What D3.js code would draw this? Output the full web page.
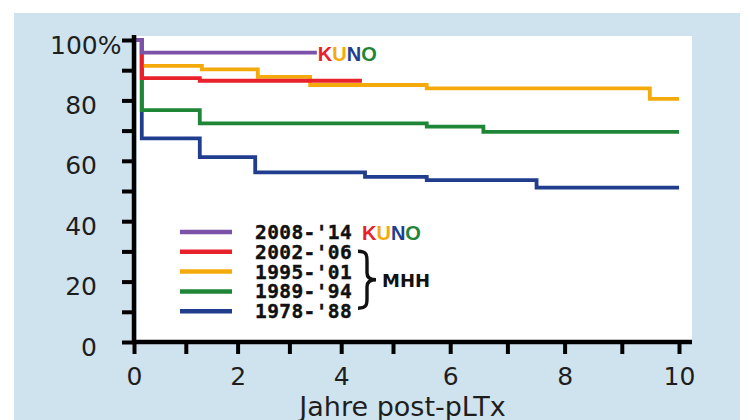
<!DOCTYPE html>
<html><head><meta charset="utf-8">
<script src="https://cdn.jsdelivr.net/npm/d3@7"></script>
<style>
html,body{margin:0;padding:0;background:#fff;}
svg{display:block;}
</style></head>
<body>
<script>
// ---- data ----
const seriesNames = ["2008-'14", "2002-'06", "1995-'01", "1989-'94", "1978-'88"];
const seriesColors = ["#7b52a8", "#e8212b", "#f5aa0c", "#1f8537", "#203d8e"];
const timePurple = [0, 0.15, 3.53];
const survPurple = [100, 95.8, 95.8];
const timeRed = [0, 0.15, 1.27, 4.4];
const survRed = [100, 87.4, 86.5, 86.5];
const timeOrange = [0, 0.15, 1.31, 2.39, 3.40, 5.59, 9.49, 10.0];
const survOrange = [100, 91.4, 90.3, 87.8, 85.1, 84.0, 80.5, 80.5];
const timeGreen = [0, 0.15, 1.27, 5.59, 6.58, 10.0];
const survGreen = [100, 76.8, 72.4, 71.3, 69.6, 69.6];
const timeBlue = [0, 0.15, 1.27, 2.34, 4.46, 5.59, 7.51, 10.0];
const survBlue = [100, 67.4, 61.2, 56.2, 54.7, 53.6, 51.1, 51.1];
const xTickLabels = [0, 2, 4, 6, 8, 10];
const xMinorTicks = [1, 3, 5, 7, 9];
const yTickLabels = [0, 20, 40, 60, 80, 100];
const yMinorTicks = [10, 30, 50, 70, 90];
const xTitle = "Jahre post-pLTx";
const kunoLetters = ["K", "U", "N", "O"];
const kunoColors = ["#e8212b", "#f5aa0c", "#203d8e", "#1f8537"];
const groupLabel = "MHH";

const W = 749, H = 420;
const svg = d3.select("body").append("svg").attr("width", W).attr("height", H);

// background panels
svg.append("rect").attr("x", 14).attr("y", 13).attr("width", 726).attr("height", H - 13).attr("fill", "#cfe3ef");

const x = d3.scaleLinear().domain([0, 5, 10]).range([134, 393, 679]);
const y = d3.scaleLinear().domain([0, 100]).range([342, 40]);

svg.append("rect").attr("x", 137).attr("y", 36).attr("width", 692 - 137).attr("height", 342 - 36).attr("fill", "#ffffff");

// curves
const series = [
  {t: timeBlue, v: survBlue, c: seriesColors[4]},
  {t: timeGreen, v: survGreen, c: seriesColors[3]},
  {t: timeOrange, v: survOrange, c: seriesColors[2]},
  {t: timeRed, v: survRed, c: seriesColors[1]},
  {t: timePurple, v: survPurple, c: seriesColors[0]}
];
const line = d3.line().x(d => x(d[0])).y(d => y(d[1])).curve(d3.curveStepAfter);
series.forEach(s => {
  svg.append("path").datum(s.t.map((t, i) => [t, s.v[i]]))
    .attr("d", line).attr("fill", "none").attr("stroke", s.c)
    .attr("stroke-width", 3.8).attr("stroke-linejoin", "miter").attr("stroke-linecap", "butt");
});

// KUNO label at end of purple line
const kunoTop = svg.append("text")
  .attr("x", x(timePurple[timePurple.length - 1]) + 1)
  .attr("y", y(survPurple[survPurple.length - 1]) + 8)
  .attr("font-family", "Liberation Sans, Arial, sans-serif").attr("font-weight", "bold")
  .attr("font-size", 20);
kunoLetters.forEach((k, i) => kunoTop.append("tspan").attr("fill", kunoColors[i]).text(k));

// axes
const tickFont = "DejaVu Sans, sans-serif";
const yAxis = svg.append("g").attr("transform", `translate(${x(0)},0)`)
  .call(d3.axisLeft(y).tickValues(yTickLabels).tickSize(12).tickSizeOuter(0).tickPadding(25)
    .tickFormat(d => d));
const yAxisMinor = svg.append("g").attr("transform", `translate(${x(0)},0)`)
  .call(d3.axisLeft(y).tickValues(yMinorTicks).tickSize(12).tickSizeOuter(0).tickFormat(""));
const xAxis = svg.append("g").attr("transform", `translate(0,${y(0)})`)
  .call(d3.axisBottom(x).tickValues(xTickLabels).tickSize(12).tickSizeOuter(0).tickPadding(13)
    .tickFormat(d => d));
const xAxisMinor = svg.append("g").attr("transform", `translate(0,${y(0)})`)
  .call(d3.axisBottom(x).tickValues(xMinorTicks).tickSize(12).tickSizeOuter(0).tickFormat(""));

[yAxis, yAxisMinor, xAxis, xAxisMinor].forEach(g => {
  g.select(".domain").remove();
  g.selectAll(".tick line").attr("stroke", "#000").attr("stroke-width", 4);
  g.selectAll(".tick text").attr("fill", "#1e1e1e").attr("font-family", tickFont).attr("font-size", 25);
});
yAxis.selectAll(".tick text").attr("dy", "0.52em");
const t100 = yAxis.selectAll(".tick").filter(d => d === 100).select("text");
t100.append("tspan").text("%");
t100.attr("text-anchor", "start").attr("x", 50 - x(0));

// axis lines
svg.append("line").attr("x1", x(0)).attr("x2", x(0)).attr("y1", y(100) - 5).attr("y2", y(0) + 2)
  .attr("stroke", "#000").attr("stroke-width", 4.5);
svg.append("line").attr("x1", x(0) - 2).attr("x2", 692).attr("y1", y(0)).attr("y2", y(0))
  .attr("stroke", "#000").attr("stroke-width", 4.5);

// x title
svg.append("text").attr("x", (x(0) + x(10)) / 2 - 4).attr("y", 416)
  .attr("text-anchor", "middle").attr("font-family", tickFont).attr("font-size", 27).attr("fill", "#1e1e1e")
  .text(xTitle);

// legend
const lgX0 = 180, lgX1 = 232, lgY0 = 232, lgStep = 19.8, lgTextX = 255;
const legend = svg.append("g");
seriesNames.forEach((name, i) => {
  const yy = lgY0 + i * lgStep;
  legend.append("line").attr("x1", lgX0).attr("x2", lgX1).attr("y1", yy).attr("y2", yy)
    .attr("stroke", seriesColors[i]).attr("stroke-width", 4.5);
  legend.append("text").attr("x", lgTextX).attr("y", yy + 7)
    .attr("font-family", "DejaVu Sans Mono, monospace").attr("font-weight", "bold")
    .attr("font-size", 19.5).attr("letter-spacing", 0.4).attr("fill", "#111")
    .attr("stroke", "#111").attr("stroke-width", 0.4).text(name);
});
const kunoLg = legend.append("text").attr("x", 362).attr("y", lgY0 + 7.5)
  .attr("font-family", "Liberation Sans, Arial, sans-serif").attr("font-weight", "bold").attr("font-size", 20);
kunoLetters.forEach((k, i) => kunoLg.append("tspan").attr("fill", kunoColors[i]).text(k));

// brace for MHH (rows 1..4)
const bTop = lgY0 + lgStep - 0.5, bBot = lgY0 + 4 * lgStep - 3, bMid = (bTop + bBot) / 2;
const bx = 358, bw = 9, tip = 18;
const bracePath = `M ${bx} ${bTop} C ${bx + bw} ${bTop}, ${bx + bw} ${bTop + 4}, ${bx + bw} ${bTop + 10}
 L ${bx + bw} ${bMid - 7} C ${bx + bw} ${bMid - 2}, ${bx + bw + 3} ${bMid}, ${bx + tip} ${bMid}
 C ${bx + bw + 3} ${bMid}, ${bx + bw} ${bMid + 2}, ${bx + bw} ${bMid + 7}
 L ${bx + bw} ${bBot - 10} C ${bx + bw} ${bBot - 4}, ${bx + bw} ${bBot}, ${bx} ${bBot}`;
legend.append("path").attr("d", bracePath).attr("fill", "none").attr("stroke", "#111").attr("stroke-width", 3.4);
legend.append("text").attr("x", 382).attr("y", bMid + 7)
  .attr("font-family", "DejaVu Sans, sans-serif").attr("font-weight", "bold").attr("font-size", 18)
  .attr("fill", "#111").text(groupLabel);
</script>
</body></html>
